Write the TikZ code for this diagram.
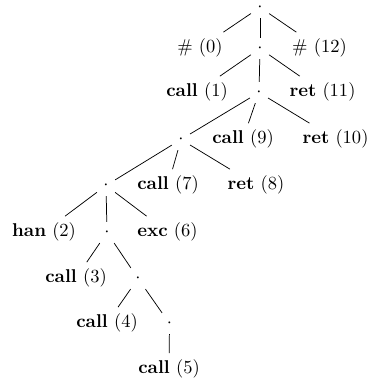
\documentclass[tikz,border=0pt]{standalone}
\usepackage{tikz}
\newcommand{\evt}[2]{\textbf{#1} (#2)}
\tikzset{
  joint/.style={anchor=base},
  leaf/.style={anchor=base},
  branch/.style={draw=black, line width=0.4pt},
}

\begin{document}
\begin{tikzpicture}[x=0.54pt, y=-0.54pt]
    \useasboundingbox (0,0) rectangle (370,384);

    % spine of the trace
    \node[joint] (root) at (260,11.5) {$\cdot$};
    \node[leaf] (hashl) at (200,52.6) {\# (0)};
    \node[joint] (ja) at (260,52.6) {$\cdot$};
    \node[leaf] (hashr) at (319.5,52.6) {\# (12)};

    \node[leaf] (call1) at (197,96.6) {\evt{call}{1}};
    \node[joint] (jb) at (259,96.6) {$\cdot$};
    \node[leaf] (ret11) at (322.5,96.6) {\evt{ret}{11}};

    \node[joint] (jc) at (181,143.6) {$\cdot$};
    \node[leaf] (call9) at (243,143.6) {\evt{call}{9}};
    \node[leaf] (ret10) at (335.5,143.6) {\evt{ret}{10}};

    \node[joint] (jd) at (106,189.6) {$\cdot$};
    \node[leaf] (call7) at (168,189.6) {\evt{call}{7}};
    \node[leaf] (ret8) at (256,189.6) {\evt{ret}{8}};

    \node[leaf] (han2) at (44,236.6) {\evt{han}{2}};
    \node[joint] (je) at (107,236.6) {$\cdot$};
    \node[leaf] (exc6) at (167.5,236.6) {\evt{exc}{6}};

    \node[leaf] (call3) at (76,282.6) {\evt{call}{3}};
    \node[joint] (jf) at (138,282.6) {$\cdot$};

    \node[leaf] (call4) at (107,327.6) {\evt{call}{4}};
    \node[joint] (jg) at (169.5,327.6) {$\cdot$};

    \node[leaf] (call5) at (169,373.6) {\evt{call}{5}};

    % branches
    \draw[branch] (root) -- (hashl);
    \draw[branch] (root) -- (ja);
    \draw[branch] (root) -- (hashr);
    \draw[branch] (ja) -- (call1);
    \draw[branch] (ja) -- (jb);
    \draw[branch] (ja) -- (ret11);
    \draw[branch] (jb) -- (jc);
    \draw[branch] (jb) -- (call9);
    \draw[branch] (jb) -- (ret10);
    \draw[branch] (jc) -- (jd);
    \draw[branch] (jc) -- (call7);
    \draw[branch] (jc) -- (ret8);
    \draw[branch] (jd) -- (han2);
    \draw[branch] (jd) -- (je);
    \draw[branch] (jd) -- (exc6);
    \draw[branch] (je) -- (call3);
    \draw[branch] (je) -- (jf);
    \draw[branch] (jf) -- (call4);
    \draw[branch] (jf) -- (jg);
    \draw[branch] (jg) -- (call5);
\end{tikzpicture}
\end{document}
